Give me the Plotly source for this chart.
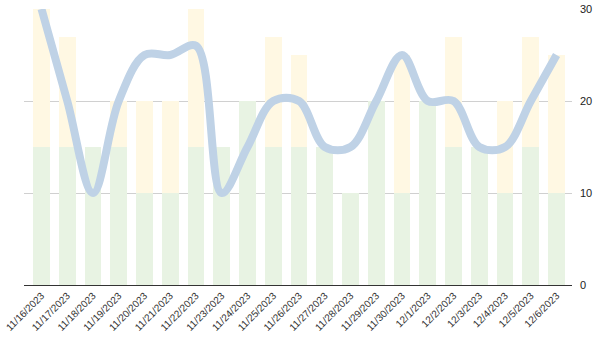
import plotly.graph_objects as go

dates = ["11/16/2023", "11/17/2023", "11/18/2023", "11/19/2023", "11/20/2023",
         "11/21/2023", "11/22/2023", "11/23/2023", "11/24/2023", "11/25/2023",
         "11/26/2023", "11/27/2023", "11/28/2023", "11/29/2023", "11/30/2023",
         "12/1/2023", "12/2/2023", "12/3/2023", "12/4/2023", "12/5/2023", "12/6/2023"]
green_vals = [15, 15, 15, 15, 10, 10, 15, 15, 20, 15, 15, 15, 10, 20, 10, 20, 15, 15, 10, 15, 10]
yellow_vals = [15, 12, 0, 5, 10, 10, 15, 0, 0, 12, 10, 0, 0, 0, 15, 0, 12, 0, 10, 12, 15]
line_vals = [30, 20, 10, 20, 25, 25, 26, 10, 15, 20, 20, 15, 15, 20, 25, 20, 20, 15, 15, 20, 25]

fig = go.Figure()
fig.add_trace(go.Bar(x=dates, y=green_vals, marker=dict(color="#e8f3e3", line=dict(width=0)),
                     showlegend=False, hoverinfo="skip"))
fig.add_trace(go.Bar(x=dates, y=yellow_vals, marker=dict(color="#fff8e3", line=dict(width=0)),
                     showlegend=False, hoverinfo="skip"))
fig.add_trace(go.Scatter(x=dates, y=line_vals, mode="lines",
                         line=dict(shape="spline", smoothing=1, width=8, color="#bfd2e6"),
                         showlegend=False))

fig.update_layout(
    width=600, height=339,
    margin=dict(l=24, r=28, t=9, b=54, autoexpand=False),
    barmode="stack", bargap=0.35,
    plot_bgcolor="white", paper_bgcolor="white",
    font=dict(family="Liberation Sans, Arial, sans-serif", color="#222"),
    xaxis=dict(type="category", range=[-0.68, 20.6], tickangle=-45, automargin=False,
               tickfont=dict(size=10, color="#333"), showgrid=False,
               showline=True, linecolor="#333", linewidth=1, ticks=""),
    yaxis=dict(side="right", range=[0, 30], dtick=10, showgrid=True, automargin=False,
               gridcolor="#d0d0d0", gridwidth=1, zeroline=False, ticklabelstandoff=7,
               tickfont=dict(size=11, color="#222"), ticks=""),
)
fig.write_html("out.html")
